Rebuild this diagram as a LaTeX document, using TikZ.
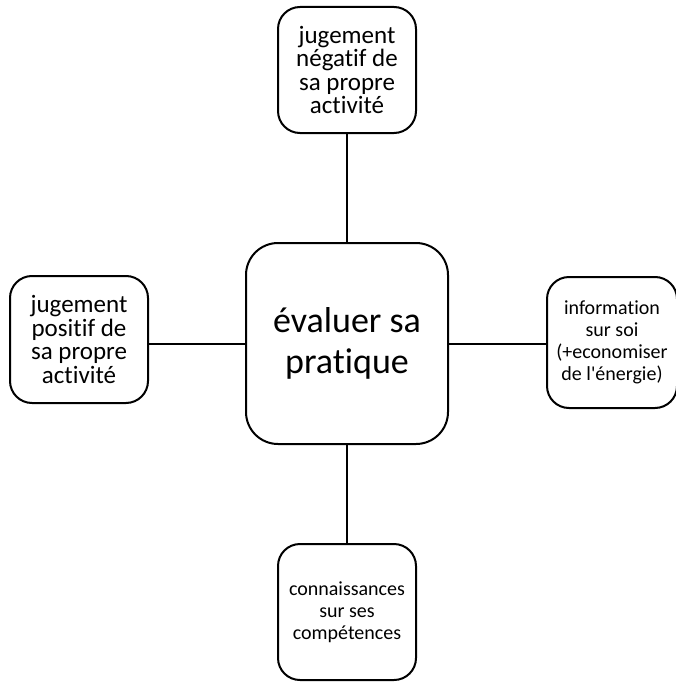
\documentclass[tikz,border=0pt]{standalone}
\usepackage{fontspec}
\setmainfont{Carlito}[Ligatures=NoCommon]
\begin{document}
\begin{tikzpicture}[x=1pt,y=-1pt,
  box/.style={draw, line width=2pt, rounded corners=22pt, align=center, inner sep=0pt},
  link/.style={line width=2pt}]
\useasboundingbox (0,0) rectangle (675,682);
\node[box, minimum width=202pt, minimum height=201pt, rounded corners=32pt,
      font=\fontsize{36}{41}\selectfont] (c) at (347,343.5) {évaluer sa\\pratique};
\node[box, minimum width=138pt, minimum height=126pt,
      font=\fontsize{25}{23.5}\selectfont] (t) at (347,70) {jugement\\négatif de\\sa propre\\activité};
\node[box, minimum width=138pt, minimum height=127pt,
      font=\fontsize{25}{23.5}\selectfont] (l) at (79,339.5) {jugement\\positif de\\sa propre\\activité};
\node[box, minimum width=130pt, minimum height=131pt,
      font=\fontsize{20}{22}\selectfont] (r) at (612,342.5) {information\\sur soi\\(+economiser\\de l\textquotesingle énergie)};
\node[box, minimum width=138pt, minimum height=136pt,
      font=\fontsize{20}{22}\selectfont] (b) at (347,612) {connaissances\\sur ses\\compétences};
\draw[link] (c.north) -- (t.south);
\draw[link] (c.south) -- (b.north);
\draw[link] (c.west) -- (c.west -| l.east);
\draw[link] (c.east) -- (c.east -| r.west);
\end{tikzpicture}
\end{document}
